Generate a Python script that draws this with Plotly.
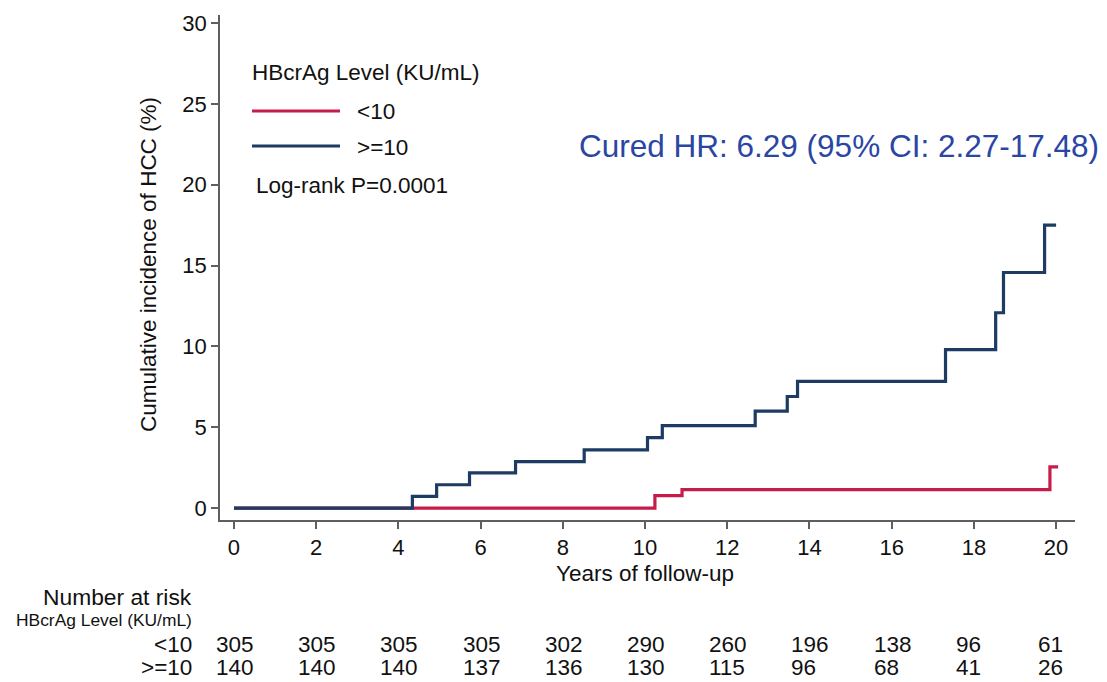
import plotly.graph_objects as go

# Cumulative incidence of HCC (%) by follow-up year, step curves
time_low = [0, 10.24, 10.90, 19.85, 20.05]
inc_low = [0, 0.77, 1.14, 2.55, 2.55]

time_high = [0, 4.34, 4.93, 5.73, 6.85, 8.52, 10.06, 10.42, 12.68, 13.46, 13.71,
             17.31, 18.53, 18.72, 19.72, 20.0]
inc_high = [0, 0.72, 1.44, 2.17, 2.87, 3.60, 4.35, 5.10, 6.00, 6.90, 7.83,
            9.80, 12.08, 14.57, 17.50, 17.50]

# Number at risk table
risk_years = [0, 2, 4, 6, 8, 10, 12, 14, 16, 18, 20]
risk_low = [305, 305, 305, 305, 302, 290, 260, 196, 138, 96, 61]
risk_high = [140, 140, 140, 137, 136, 130, 115, 96, 68, 41, 26]

group_labels = ["<10", ">=10"]
x_ticks = list(range(0, 21, 2))
y_ticks = list(range(0, 31, 5))

RED = "#C61C4A"
BLUE = "#1D3B63"
AXIS = "#5f5f5f"
TXT = "#111111"
FONT = "Liberation Sans, Arial, Helvetica, sans-serif"

W, H = 1107, 682
L, R, T, B = 220, 32, 15, 162
PW, PH = W - L - R, H - T - B


def px(x):
    return (x - L) / PW


def py(y):
    return (H - B - y) / PH


def label(x, y, text, size, anchor="left", color=TXT, **kw):
    return dict(x=px(x), y=py(y), xref="paper", yref="paper", xanchor=anchor,
                yanchor="middle", showarrow=False, text=text,
                font=dict(family=FONT, size=size, color=color), **kw)


fig = go.Figure()
fig.add_trace(go.Scatter(x=time_low, y=inc_low, mode="lines", line_shape="hv",
                         line=dict(color=RED, width=3.2), showlegend=False))
fig.add_trace(go.Scatter(x=time_high, y=inc_high, mode="lines", line_shape="hv",
                         line=dict(color=BLUE, width=3.2), showlegend=False))

axis_common = dict(showgrid=False, zeroline=False, showline=True, linecolor=AXIS,
                   linewidth=1.5, ticks="outside", ticklen=7, tickwidth=1.5,
                   tickcolor=AXIS, tickfont=dict(family=FONT, size=22, color=TXT))

fig.update_xaxes(range=[-0.34, 20.46], tickvals=x_ticks, **axis_common)
fig.update_yaxes(range=[-0.74, 30.5], tickvals=y_ticks, **axis_common)

ann = []
shapes = []

# Axis titles
ann.append(label(645, 573, "Years of follow-up", 22.5, anchor="center"))
ann.append(label(148, 265, "Cumulative incidence of HCC (%)", 22.5, anchor="center",
                 textangle=-90))

# Legend block
ann.append(label(250, 72, "HBcrAg Level (KU/mL)", 22.5))
for ypix, col, lab in [(111, RED, group_labels[0]), (146, BLUE, group_labels[1])]:
    shapes.append(dict(type="line", xref="paper", yref="paper", x0=px(252), x1=px(340),
                       y0=py(ypix), y1=py(ypix), line=dict(color=col, width=3.2)))
    ann.append(label(355, ypix + 1, lab, 22.5))
ann.append(label(254, 186, "Log-rank P=0.0001", 22.5))

# Hazard ratio note
ann.append(label(1101, 146, "Cured HR: 6.29 (95% CI: 2.27-17.48)", 31.5,
                 anchor="right", color="#2A46A3"))

# Number at risk table
ann.append(label(194, 597, "Number at risk", 22.8, anchor="right"))
ann.append(label(194, 620, "HBcrAg Level (KU/mL)", 17.4, anchor="right"))
for ypix, lab, row in [(644, group_labels[0], risk_low), (667, group_labels[1], risk_high)]:
    ann.append(label(194, ypix, lab, 22.5, anchor="right"))
    for yr, n in zip(risk_years, row):
        ann.append(dict(x=yr, y=py(ypix), xref="x", yref="paper", xanchor="left",
                        xshift=-20, yanchor="middle", showarrow=False, text=str(n),
                        font=dict(family=FONT, size=22.5, color=TXT)))

fig.update_layout(width=W, height=H, margin=dict(l=L, r=R, t=T, b=B),
                  paper_bgcolor="white", plot_bgcolor="white",
                  annotations=ann, shapes=shapes, showlegend=False)

fig.write_html("out.html")
